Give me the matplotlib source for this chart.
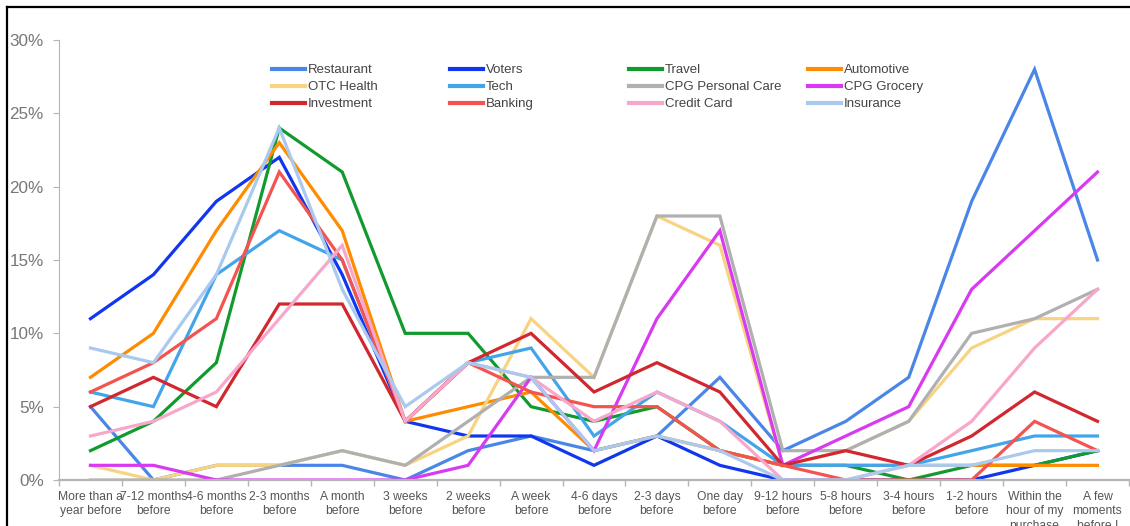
import matplotlib.pyplot as plt
from matplotlib.lines import Line2D
from matplotlib.ticker import FixedLocator, PercentFormatter

plt.rcParams['font.family'] = ['Liberation Sans', 'DejaVu Sans']

# x categories (timing before purchase)
categories = ["More than a\nyear before", "7-12 months\nbefore", "4-6 months\nbefore",
              "2-3 months\nbefore", "A month\nbefore", "3 weeks\nbefore", "2 weeks\nbefore",
              "A week\nbefore", "4-6 days\nbefore", "2-3 days\nbefore", "One day\nbefore",
              "9-12 hours\nbefore", "5-8 hours\nbefore", "3-4 hours\nbefore", "1-2 hours\nbefore",
              "Within the\nhour of my\npurchase", "A few\nmoments\nbefore I"]

# values in %
restaurant = [5, 0, 1, 1, 1, 0, 2, 3, 2, 3, 7, 2, 4, 7, 19, 28, 15]
voters = [11, 14, 19, 22, 14, 4, 3, 3, 1, 3, 1, 0, 0, 0, 0, 1, 2]
travel = [2, 4, 8, 24, 21, 10, 10, 5, 4, 5, 2, 1, 1, 0, 1, 1, 2]
automotive = [7, 10, 17, 23, 17, 4, 5, 6, 2, 3, 2, 1, 1, 1, 1, 1, 1]
otc_health = [1, 0, 1, 1, 2, 1, 3, 11, 7, 18, 16, 1, 2, 4, 9, 11, 11]
tech = [6, 5, 14, 17, 15, 4, 8, 9, 3, 6, 4, 1, 1, 1, 2, 3, 3]
cpg_personal = [0, 0, 0, 1, 2, 1, 4, 7, 7, 18, 18, 2, 2, 4, 10, 11, 13]
cpg_grocery = [1, 1, 0, 0, 0, 0, 1, 7, 2, 11, 17, 1, 3, 5, 13, 17, 21]
investment = [5, 7, 5, 12, 12, 4, 8, 10, 6, 8, 6, 1, 2, 1, 3, 6, 4]
banking = [6, 8, 11, 21, 15, 4, 8, 6, 5, 5, 2, 1, 0, 0, 0, 4, 2]
credit_card = [3, 4, 6, 11, 16, 4, 8, 7, 4, 6, 4, 0, 0, 1, 4, 9, 13]
insurance = [9, 8, 14, 24, 13, 5, 8, 7, 2, 3, 2, 0, 0, 1, 1, 2, 2]

series = [
    ("Restaurant", restaurant, "#4a86e8"),
    ("Voters", voters, "#1036f0"),
    ("Travel", travel, "#119a2d"),
    ("Automotive", automotive, "#ff8c00"),
    ("OTC Health", otc_health, "#f7d382"),
    ("Tech", tech, "#42a5ea"),
    ("CPG Personal Care", cpg_personal, "#b0b0b0"),
    ("CPG Grocery", cpg_grocery, "#d83af2"),
    ("Investment", investment, "#d1272e"),
    ("Banking", banking, "#f4544f"),
    ("Credit Card", credit_card, "#f9a6cb"),
    ("Insurance", insurance, "#a9c9ee"),
]

W, H = 1130, 526
fig = plt.figure(figsize=(W / 100, H / 100), dpi=100)
ax = fig.add_axes([59 / W, (H - 480) / H, (1129 - 59) / W, 440 / H])

x = list(range(len(categories)))
handles = []
for name, vals, col in series:
    ln, = ax.plot(x, vals, color=col, lw=2.3, label=name, solid_joinstyle='miter')
    handles.append(ln)

ax.set_xlim(-0.5, len(categories) - 0.5)
ax.set_ylim(0, 30)
ax.set_yticks(range(0, 31, 5))
ax.yaxis.set_major_formatter(PercentFormatter(decimals=0))
ax.set_xticks(x)
ax.set_xticklabels(categories, fontsize=8.7, color='#555555', linespacing=1.25)
ax.xaxis.set_minor_locator(FixedLocator([i - 0.5 for i in range(len(categories) + 1)]))
ax.tick_params(axis='x', which='major', length=0, pad=8)
ax.tick_params(axis='x', which='minor', length=4, color='#b5b5b5', width=1)
ax.tick_params(axis='y', length=4, color='#b5b5b5', labelsize=12.3, labelcolor='#777777', pad=7)

for s in ['top', 'right']:
    ax.spines[s].set_visible(False)
ax.spines['left'].set_color('#b5b5b5')
ax.spines['bottom'].set_color('#b5b5b5')
ax.spines['bottom'].set_linewidth(1.6)

# legend: four columns, each its own legend block
col_x = [272, 450, 629, 808]
for c in range(4):
    hs = [handles[c], handles[c + 4], handles[c + 8]]
    leg = fig.legend(handles=hs, loc='upper left', bbox_to_anchor=(col_x[c] / W, 1 - 64 / H),
                     frameon=False, fontsize=9.5, handlelength=2.5, handletextpad=0.2,
                     borderpad=0, borderaxespad=0, labelspacing=0.36, labelcolor='#444444')
    for lh in leg.get_lines():
        lh.set_linewidth(3)

# screenshot frame
fig.add_artist(Line2D([7 / W, 7 / W], [0, 1 - 7 / H], color='black', lw=1.6))
fig.add_artist(Line2D([7 / W, 1], [1 - 7 / H, 1 - 7 / H], color='black', lw=1.6))

fig.savefig('out.png', dpi=100)
